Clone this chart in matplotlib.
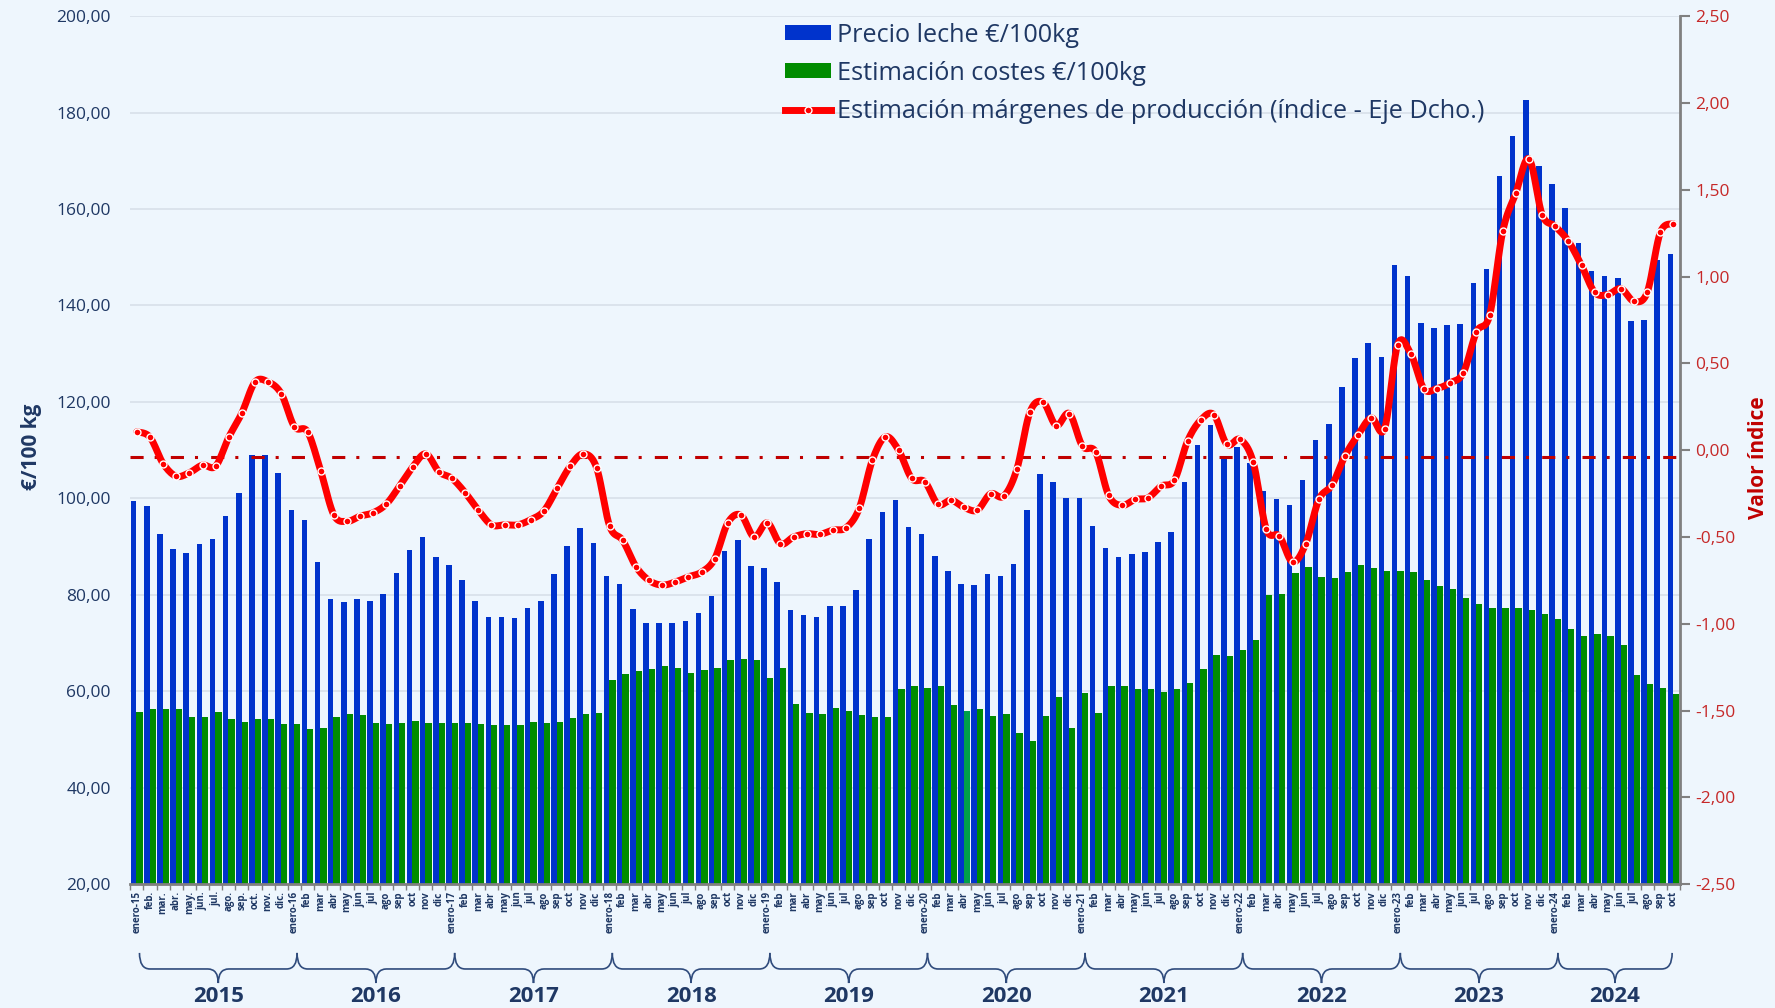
import numpy as np
import matplotlib.pyplot as plt
from matplotlib.patches import Patch, PathPatch
from matplotlib.lines import Line2D
from matplotlib.path import Path
from matplotlib.ticker import FuncFormatter
import matplotlib.transforms as mtransforms

plt.rcParams['font.family'] = ['Open Sans', 'DejaVu Sans']

# --- datos (ene-2015 .. oct-2024) ---
years = [2015, 2016, 2017, 2018, 2019, 2020, 2021, 2022, 2023, 2024]
months = ['enero', 'feb', 'mar', 'abr', 'may', 'jun', 'jul', 'ago', 'sep', 'oct', 'nov', 'dic']

precio = [
    99.4, 98.5, 92.6, 89.6, 88.7, 90.6, 91.5, 96.3, 101.2, 109.0, 109.0, 105.2,
    97.7, 95.6, 86.9, 79.2, 78.5, 79.2, 78.7, 80.1, 84.5, 89.4, 91.9, 87.8,
    86.1, 83.1, 78.7, 75.5, 75.5, 75.2, 77.3, 78.7, 84.3, 90.1, 93.8, 90.8,
    84.0, 82.2, 77.1, 74.1, 74.1, 74.1, 74.6, 76.2, 79.7, 89.2, 91.3, 85.9,
    85.5, 82.7, 76.9, 75.8, 75.5, 77.8, 77.8, 81.1, 91.5, 97.1, 99.6, 94.1,
    92.7, 88.0, 85.0, 82.2, 82.0, 84.3, 84.0, 86.4, 97.7, 105.0, 103.5, 100.1,
    100.1, 94.3, 89.8, 87.8, 88.5, 88.9, 91.0, 93.1, 103.5, 111.1, 115.2, 108.3,
    110.6, 107.3, 101.5, 99.9, 98.7, 103.8, 112.2, 115.4, 123.0, 129.1, 132.3, 129.3,
    148.3, 146.2, 136.4, 135.3, 136.0, 136.2, 144.6, 147.6, 166.8, 175.1, 182.5, 169.0,
    165.1, 160.1, 152.9, 147.1, 146.1, 145.7, 136.7, 136.9, 149.4, 150.6,
]

costes = [
    55.8, 56.3, 56.3, 56.3, 54.6, 54.6, 55.8, 54.2, 53.7, 54.2, 54.2, 53.2,
    53.2, 52.3, 52.5, 54.6, 55.3, 55.1, 53.4, 53.2, 53.4, 53.9, 53.4, 53.4,
    53.4, 53.4, 53.2, 53.0, 53.0, 53.0, 53.7, 53.4, 53.7, 54.4, 55.3, 55.6,
    62.3, 63.5, 64.2, 64.6, 65.3, 64.8, 63.9, 64.4, 64.8, 66.4, 66.8, 66.4,
    62.7, 64.8, 57.4, 55.5, 55.3, 56.5, 56.0, 55.1, 54.6, 54.6, 60.4, 61.1,
    60.6, 61.1, 57.2, 56.0, 56.3, 54.8, 55.3, 51.4, 49.7, 54.8, 58.8, 52.5,
    59.7, 55.5, 61.1, 61.1, 60.4, 60.4, 59.9, 60.4, 61.8, 64.6, 67.6, 67.3,
    68.5, 70.6, 79.9, 80.1, 84.5, 85.7, 83.8, 83.6, 84.7, 86.2, 85.5, 85.0,
    85.0, 84.7, 83.1, 81.8, 81.3, 79.4, 78.2, 77.3, 77.3, 77.3, 76.9, 76.0,
    75.0, 72.9, 71.5, 71.8, 71.5, 69.7, 63.4, 61.5, 60.6, 59.4,
]

margen = [
    0.106, 0.075, -0.077, -0.15, -0.13, -0.086, -0.092, 0.075, 0.215, 0.393, 0.393, 0.325,
    0.135, 0.106, -0.12, -0.373, -0.41, -0.38, -0.36, -0.31, -0.207, -0.098, -0.021, -0.124,
    -0.163, -0.245, -0.345, -0.43, -0.43, -0.43, -0.40, -0.35, -0.22, -0.092, -0.021, -0.10,
    -0.437, -0.52, -0.67, -0.75, -0.777, -0.759, -0.729, -0.702, -0.625, -0.418, -0.374, -0.50,
    -0.418, -0.539, -0.50, -0.481, -0.485, -0.46, -0.447, -0.335, -0.058, 0.077, 0.0, -0.163,
    -0.182, -0.312, -0.288, -0.33, -0.345, -0.251, -0.265, -0.111, 0.219, 0.276, 0.142, 0.211,
    0.023, -0.01, -0.261, -0.318, -0.284, -0.274, -0.207, -0.173, 0.052, 0.173, 0.205, 0.033,
    0.062, -0.069, -0.456, -0.495, -0.644, -0.539, -0.284, -0.201, -0.031, 0.09, 0.186, 0.123,
    0.608, 0.555, 0.353, 0.355, 0.388, 0.445, 0.681, 0.777, 1.26, 1.481, 1.678, 1.356,
    1.289, 1.203, 1.064, 0.909, 0.896, 0.93, 0.857, 0.909, 1.254, 1.304,
]

# etiquetas de meses
labels = []
for y in years:
    for m, name in enumerate(months):
        if y == 2024 and m > 9:
            break
        if m == 0:
            labels.append(f'enero-{str(y)[2:]}')
        elif y == 2015:
            labels.append(name + '.')
        else:
            labels.append(name)

# colores
bg = '#EEF6FD'
azul = '#0033CC'
verde = '#008C00'
navy = '#1F3864'
rojo_txt = '#C62828'

n = len(precio)
x = np.arange(n)
verdes = [verde] * n
verdes[63] = '#00A04A'   # abr-2020 resaltado en el original


def catmull_rom(xs, ys, steps=10):
    """suaviza la línea como hace Excel"""
    p = np.column_stack([xs, ys]).astype(float)
    p = np.vstack([p[0], p, p[-1]])
    out = []
    t = np.linspace(0, 1, steps, endpoint=False)[:, None]
    for i in range(1, len(p) - 2):
        p0, p1, p2, p3 = p[i - 1], p[i], p[i + 1], p[i + 2]
        seg = 0.5 * ((2 * p1) + (-p0 + p2) * t + (2 * p0 - 5 * p1 + 4 * p2 - p3) * t ** 2
                     + (-p0 + 3 * p1 - 3 * p2 + p3) * t ** 3)
        out.append(seg)
    out.append(p[-2][None, :])
    out = np.vstack(out)
    return out[:, 0], out[:, 1]


fig = plt.figure(figsize=(17.75, 10.08), dpi=100)
fig.patch.set_facecolor(bg)
ax = fig.add_axes([0.0734, 0.1227, 0.8731, 0.8614])
ax.set_facecolor(bg)

ax.bar(x - 0.24, precio, width=0.42, color=azul, zorder=2)
ax.bar(x + 0.21, costes, width=0.48, color=verdes, zorder=2)

ax.set_xlim(-0.5, n - 0.5)
ax.set_ylim(20, 200)
ax.set_yticks(np.arange(20, 201, 20))
ax.yaxis.set_major_formatter(FuncFormatter(lambda v, p: f'{v:.2f}'.replace('.', ',')))
ax.grid(axis='y', color='#D9E1EB', lw=1.3)
ax.set_axisbelow(True)
ax.tick_params(axis='y', length=0, pad=14, labelsize=12.5, labelcolor=navy)

ax.set_xticks(x)
ax.set_xticklabels(labels, rotation=90, fontsize=7, fontweight='bold', color=navy)
ax.set_xticks(np.arange(-0.5, n, 1), minor=True)
ax.tick_params(axis='x', which='major', length=0, pad=5)
ax.tick_params(axis='x', which='minor', length=4, color='#808080', width=1)

for s in ['left', 'top', 'right']:
    ax.spines[s].set_visible(False)
ax.spines['bottom'].set_color('#808080')
ax.spines['bottom'].set_linewidth(2)

# eje derecho
ax2 = ax.twinx()
ax2.set_ylim(-2.5, 2.5)
ax2.set_yticks(np.arange(-2.5, 2.51, 0.5))
ax2.yaxis.set_major_formatter(FuncFormatter(lambda v, p: f'{v:.2f}'.replace('.', ',')))
ax2.tick_params(axis='y', length=7, width=1.5, color='#808080', pad=4,
                labelsize=12.5, labelcolor=rojo_txt)
for s in ['left', 'top', 'bottom']:
    ax2.spines[s].set_visible(False)
ax2.spines['right'].set_color('#808080')
ax2.spines['right'].set_linewidth(2)

ax2.axhline(-0.04, color='#C00000', lw=2.2, ls=(0, (4.3, 3.6, 1, 4.3)), zorder=2)

sx, sy = catmull_rom(x, margen)
ax2.plot(sx, sy, color='#FF0000', lw=5, solid_capstyle='round', solid_joinstyle='round', zorder=3)
ax2.plot(x, margen, ls='none', marker='o', ms=5, mfc='#FF0000', mec='white', mew=1, zorder=4)

# leyenda
handles = [
    Patch(facecolor=azul),
    Patch(facecolor=verde),
    Line2D([], [], color='#FF0000', lw=5, marker='o', ms=5, mfc='#FF0000', mec='white', mew=1),
]
names = ['Precio leche €/100kg', 'Estimación costes €/100kg',
         'Estimación márgenes de producción (índice - Eje Dcho.)']
ax2.legend(handles, names, loc='upper left', bbox_to_anchor=(0.416, 1.004), frameon=False,
           fontsize=18.2, handlelength=1.8, handleheight=0.52, handletextpad=0.27,
           labelspacing=0.52, borderaxespad=0, numpoints=1, labelcolor=navy)

# títulos de ejes
fig.text(32 / 1775, 1 - 447 / 1008, '€/100 kg', rotation=90, ha='center', va='center',
         fontsize=15, fontweight='bold', color=navy)
fig.text(1758 / 1775, 1 - 458 / 1008, 'Valor índice', rotation=90, ha='center', va='center',
         fontsize=15, fontweight='bold', color='#C00000')

# llaves de años
trans = mtransforms.blended_transform_factory(ax.transData, ax.transAxes)
ytop, ymid, ytip = -0.079, -0.0975, -0.1137
r = 0.8
for k, yr in enumerate(years):
    x0 = 12 * k + 0.2
    x1 = min(12 * k + 12.2, n - 1.1)
    xm = (x0 + x1) / 2
    verts = [(x0, ytop), (x0, ymid), (x0 + r, ymid), (xm - r, ymid), (xm, ymid), (xm, ytip),
             (xm, ymid), (xm + r, ymid), (x1 - r, ymid), (x1, ymid), (x1, ytop)]
    codes = [Path.MOVETO, Path.CURVE3, Path.CURVE3, Path.LINETO, Path.CURVE3, Path.CURVE3,
             Path.CURVE3, Path.CURVE3, Path.LINETO, Path.CURVE3, Path.CURVE3]
    ax.add_patch(PathPatch(Path(verts, codes), transform=trans, fill=False,
                           edgecolor='#2F4B7C', lw=1.2, clip_on=False))
    ax.text(xm, ytip - 0.003, str(yr), transform=trans, ha='center', va='top',
            fontsize=16, fontweight='bold', color=navy, clip_on=False)

fig.savefig('out.png', dpi=100, facecolor=bg)
